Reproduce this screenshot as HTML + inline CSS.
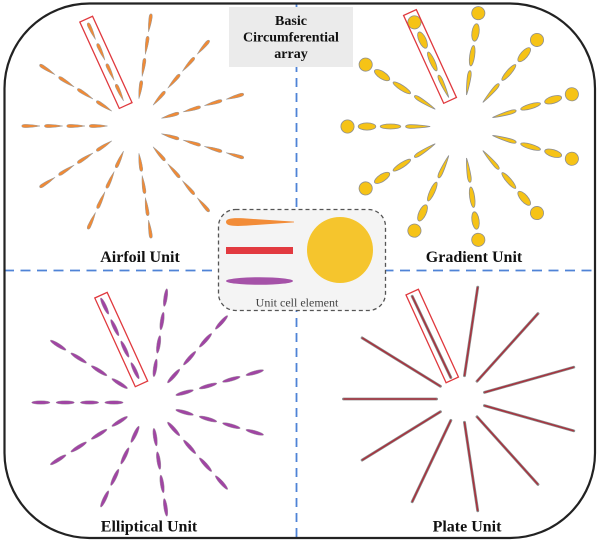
<!DOCTYPE html>
<html>
<head>
<meta charset="utf-8">
<style>
  html,body{margin:0;padding:0;background:#fff;}
  body{width:603px;height:541px;overflow:hidden;}
  svg{display:block;}
  .lbl{font-family:"Liberation Serif",serif;font-weight:bold;font-size:16px;fill:#111;}
  .ttl{font-family:"Liberation Serif",serif;font-weight:bold;font-size:14px;fill:#111;}
  .uc{font-family:"Liberation Serif",serif;font-size:12px;fill:#444;}
</style>
</head>
<body>
<svg width="603" height="541" viewBox="0 0 603 541" xmlns="http://www.w3.org/2000/svg">
  <defs>
    <g id="af" fill="#f08a36" stroke="#9a9a9a" stroke-width="0.5">
      <path d="M27.5,0 C33.5,-1.2 37.8,-1.6 42.8,-1.6 Q45.8,-1.5 45.8,0 Q45.8,1.5 42.8,1.6 C37.8,1.6 33.5,1.2 27.5,0 Z"/>
      <path d="M50,0 C56,-1.2 60.3,-1.6 65.3,-1.6 Q68.3,-1.5 68.3,0 Q68.3,1.5 65.3,1.6 C60.3,1.6 56,1.2 50,0 Z"/>
      <path d="M72.3,0 C78.3,-1.2 82.6,-1.6 87.6,-1.6 Q90.6,-1.5 90.6,0 Q90.6,1.5 87.6,1.6 C82.6,1.6 78.3,1.2 72.3,0 Z"/>
      <path d="M95,0 C101,-1.2 105.3,-1.6 110.3,-1.6 Q113.3,-1.5 113.3,0 Q113.3,1.5 110.3,1.6 C105.3,1.6 101,1.2 95,0 Z"/>
    </g>
    <g id="gr" fill="#f6c316" stroke="#8f8f8f" stroke-width="0.8">
      <circle cx="114.5" cy="0" r="6.6"/>
      <ellipse cx="95" cy="0" rx="8.8" ry="3.6"/>
      <ellipse cx="71.5" cy="0" rx="10.3" ry="2.5"/>
      <path d="M31.8,0 C38,-1.2 48,-1.9 52,-1.8 Q56.4,-1.5 56.4,0 Q56.4,1.5 52,1.8 C48,1.9 38,1.2 31.8,0 Z"/>
    </g>
    <g id="el" fill="#a045a3" stroke="#a0a0a0" stroke-width="0.4">
      <ellipse cx="35" cy="0" rx="9" ry="1.8"/>
      <ellipse cx="58.7" cy="0" rx="9" ry="1.8"/>
      <ellipse cx="82.3" cy="0" rx="9" ry="1.8"/>
      <ellipse cx="106" cy="0" rx="9" ry="1.8"/>
    </g>
    <g id="pl">
      <line x1="23.5" y1="0" x2="113" y2="0" stroke="#8c8c8c" stroke-width="2.8" stroke-linecap="round"/>
      <line x1="24" y1="0" x2="112.5" y2="0" stroke="#a8323e" stroke-width="1.5" stroke-linecap="round"/>
    </g>
  </defs>

  <line x1="296.5" y1="3" x2="296.5" y2="538" stroke="#4f83d6" stroke-width="1.8" stroke-dasharray="9 6"/>
  <line x1="4" y1="270.5" x2="595" y2="270.5" stroke="#4f83d6" stroke-width="1.8" stroke-dasharray="10 6.5"/>

  <rect x="229" y="7" width="124" height="60" fill="#ebebeb"/>
  <text class="ttl" x="291" y="25" text-anchor="middle">Basic</text>
  <text class="ttl" x="291" y="41.5" text-anchor="middle">Circumferential</text>
  <text class="ttl" x="291" y="58" text-anchor="middle">array</text>

  <rect x="218.5" y="209.5" width="167" height="101" rx="17" fill="#f4f4f4" stroke="#555" stroke-width="1.3" stroke-dasharray="4 3"/>
  <path d="M226,222 C226,217.6 236,217.6 250,218.8 L294,221.6 L294,222.4 L250,225.4 C236,226.5 226,226.4 226,222 Z" fill="#f28c38"/>
  <rect x="226" y="247" width="67" height="7" fill="#e23a40"/>
  <ellipse cx="259.5" cy="281" rx="33.5" ry="3.8" fill="#a552a8"/>
  <circle cx="340" cy="250" r="33" fill="#f5c52d"/>
  <text class="uc" x="297" y="306.5" text-anchor="middle">Unit cell element</text>

  <g transform="translate(135,126)">
    <use href="#af" transform="rotate(180)"/>
    <use href="#af" transform="rotate(-147.27)"/>
    <use href="#af" transform="rotate(-114.55)"/>
    <use href="#af" transform="rotate(-81.82)"/>
    <use href="#af" transform="rotate(-49.09)"/>
    <use href="#af" transform="rotate(-16.36)"/>
    <use href="#af" transform="rotate(16.36)"/>
    <use href="#af" transform="rotate(49.09)"/>
    <use href="#af" transform="rotate(81.82)"/>
    <use href="#af" transform="rotate(114.55)"/>
    <use href="#af" transform="rotate(147.27)"/>
    <rect transform="rotate(-114.55)" x="22.5" y="-7" width="95" height="14" fill="none" stroke="#e0393e" stroke-width="1.3"/>
  </g>

  <g transform="translate(462,126.5)">
    <use href="#gr" transform="rotate(180)"/>
    <use href="#gr" transform="rotate(-147.27)"/>
    <use href="#gr" transform="rotate(-114.55)"/>
    <use href="#gr" transform="rotate(-81.82)"/>
    <use href="#gr" transform="rotate(-49.09)"/>
    <use href="#gr" transform="rotate(-16.36)"/>
    <use href="#gr" transform="rotate(16.36)"/>
    <use href="#gr" transform="rotate(49.09)"/>
    <use href="#gr" transform="rotate(81.82)"/>
    <use href="#gr" transform="rotate(114.55)"/>
    <use href="#gr" transform="rotate(147.27)"/>
    <rect transform="rotate(-114.55)" x="28.7" y="-7" width="96.6" height="14" fill="none" stroke="#e0393e" stroke-width="1.3"/>
  </g>

  <g transform="translate(150,402.5) scale(1.03,1)">
    <use href="#el" transform="rotate(180)"/>
    <use href="#el" transform="rotate(-147.27)"/>
    <use href="#el" transform="rotate(-114.55)"/>
    <use href="#el" transform="rotate(-81.82)"/>
    <use href="#el" transform="rotate(-49.09)"/>
    <use href="#el" transform="rotate(-16.36)"/>
    <use href="#el" transform="rotate(16.36)"/>
    <use href="#el" transform="rotate(49.09)"/>
    <use href="#el" transform="rotate(81.82)"/>
    <use href="#el" transform="rotate(114.55)"/>
    <use href="#el" transform="rotate(147.27)"/>
  </g>
  <rect transform="translate(150,402.5) rotate(-114.55)" x="20.5" y="-6.8" width="97.5" height="13.6" fill="none" stroke="#e0393e" stroke-width="1.3"/>

  <g transform="translate(461,399) scale(1.04,1)">
    <use href="#pl" transform="rotate(180)"/>
    <use href="#pl" transform="rotate(-147.27)"/>
    <use href="#pl" transform="rotate(-114.55)"/>
    <use href="#pl" transform="rotate(-81.82)"/>
    <use href="#pl" transform="rotate(-49.09)"/>
    <use href="#pl" transform="rotate(-16.36)"/>
    <use href="#pl" transform="rotate(16.36)"/>
    <use href="#pl" transform="rotate(49.09)"/>
    <use href="#pl" transform="rotate(81.82)"/>
    <use href="#pl" transform="rotate(114.55)"/>
    <use href="#pl" transform="rotate(147.27)"/>
  </g>
  <rect transform="translate(461,399) rotate(-114.55)" x="21" y="-6.8" width="96.5" height="13.6" fill="none" stroke="#e0393e" stroke-width="1.3"/>

  <text class="lbl" x="140" y="262" text-anchor="middle">Airfoil Unit</text>
  <text class="lbl" x="474" y="262" text-anchor="middle">Gradient Unit</text>
  <text class="lbl" x="149" y="531.5" text-anchor="middle">Elliptical Unit</text>
  <text class="lbl" x="467" y="531.5" text-anchor="middle">Plate Unit</text>

  <rect x="4.5" y="3.5" width="590.5" height="534.5" rx="85" ry="85" fill="none" stroke="#222" stroke-width="2.2"/>
</svg>
</body>
</html>
